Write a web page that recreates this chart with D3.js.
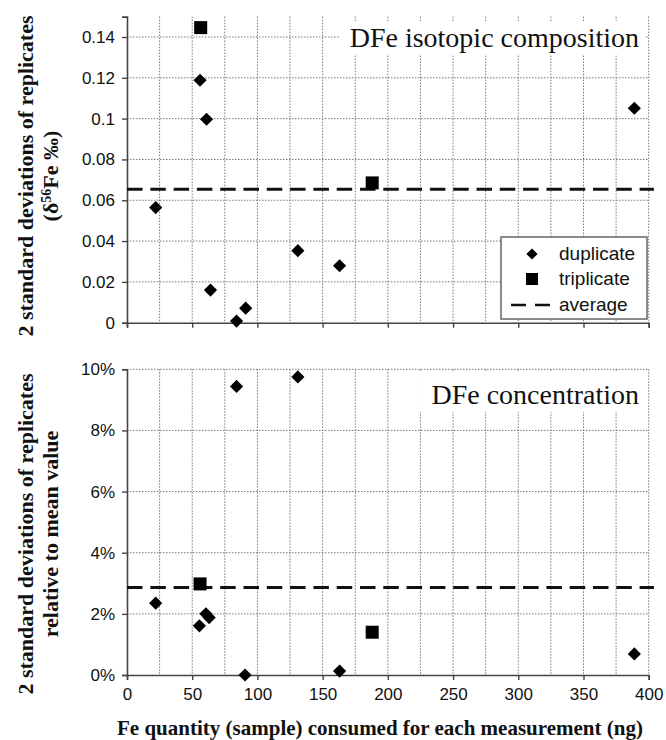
<!DOCTYPE html>
<html><head><meta charset="utf-8">
<script src="https://cdn.jsdelivr.net/npm/d3@7"></script>
<style>html,body{margin:0;padding:0;background:#fff;}svg{display:block;}</style>
</head><body>
<script>
// ---- data ----
const xTicks = [0, 50, 100, 150, 200, 250, 300, 350, 400];
const xGrid = [25, 50, 75, 100, 125, 150, 175, 200, 225, 250, 275, 300, 325, 350, 375, 400];
const isoTicks = [0, 0.02, 0.04, 0.06, 0.08, 0.1, 0.12, 0.14];
const isoTickLabels = ["0", "0.02", "0.04", "0.06", "0.08", "0.1", "0.12", "0.14"];
const isoDupX = [22, 56, 61, 64, 84, 91, 131, 163, 389];
const isoDupY = [0.0564, 0.1188, 0.0997, 0.016, 0.0008, 0.0071, 0.0353, 0.0279, 0.1051];
const isoTriX = [56.5, 188];
const isoTriY = [0.1446, 0.0685];
const isoAvg = 0.0654;
const concTicks = [0, 0.02, 0.04, 0.06, 0.08, 0.10];
const concTickLabels = ["0%", "2%", "4%", "6%", "8%", "10%"];
const concDupX = [22, 55.5, 60.5, 63, 84, 90.5, 131, 163, 389];
const concDupY = [0.0235, 0.0161, 0.0200, 0.0188, 0.0944, 0.0000, 0.0975, 0.0013, 0.0069];
const concTriX = [56, 188];
const concTriY = [0.0298, 0.0140];
const concAvg = 0.0286;
const avgXExtent = [0, 404];
const legendLabels = ["duplicate", "triplicate", "average"];

const W = 666, H = 740;
const svg = d3.select("body").append("svg").attr("width", W).attr("height", H);
const x = d3.scaleLinear().domain([0, 400]).range([127, 648.7]);

const serif = "'Liberation Serif','Times New Roman',serif";
const sans = "'Liberation Sans',Arial,sans-serif";
const diamond = "M0,-6.6L6.6,0L0,6.6L-6.6,0Z";
const gridColor = "#777";
const axisColor = "#444";

function panel(cfg) {
  const y = d3.scaleLinear().domain(cfg.yDomain).range(cfg.yRange);
  const g = svg.append("g");
  // gridlines
  g.selectAll("line.hg").data(cfg.yTicks.filter(d => d > 0)).join("line")
    .attr("x1", x(0)).attr("x2", x(400)).attr("y1", d => y(d)).attr("y2", d => y(d))
    .attr("stroke", gridColor).attr("stroke-width", 1).attr("stroke-dasharray", "1.5,1.5");
  g.selectAll("line.vg").data(xGrid).join("line")
    .attr("x1", d => x(d)).attr("x2", d => x(d)).attr("y1", y(cfg.yDomain[1])).attr("y2", y(0))
    .attr("stroke", gridColor).attr("stroke-width", 1).attr("stroke-dasharray", "1.5,1.5");
  // title box
  g.append("rect").attr("x", cfg.titleBox[0]).attr("y", cfg.titleBox[1])
    .attr("width", cfg.titleBox[2]).attr("height", cfg.titleBox[3]).attr("fill", "#fff");
  g.append("text").attr("x", 639).attr("y", cfg.titleY).attr("text-anchor", "end")
    .attr("font-family", serif).attr("font-size", 28).attr("fill", "#111").text(cfg.title);
  // axes
  const ya = d3.axisLeft(y).tickValues(cfg.yTicks).tickSize(5).tickPadding(7)
    .tickFormat((d, i) => cfg.yTickLabels[i]);
  const yg = g.append("g").attr("transform", `translate(${x(0)},0)`).call(ya);
  yg.select(".domain").attr("stroke", axisColor).attr("stroke-width", 1.6);
  yg.selectAll(".tick line").attr("stroke", axisColor).attr("stroke-width", 1.4);
  yg.selectAll("text").attr("font-family", sans).attr("font-size", 17).attr("fill", "#111");
  const xa = d3.axisBottom(x).tickValues(xTicks).tickSize(5).tickPadding(8)
    .tickFormat(cfg.showX ? d3.format("d") : "");
  const xg = g.append("g").attr("transform", `translate(0,${y(0)})`).call(xa);
  xg.select(".domain").attr("stroke", axisColor).attr("stroke-width", 1.6);
  xg.selectAll(".tick line").attr("stroke", axisColor).attr("stroke-width", 1.4);
  xg.selectAll("text").attr("font-family", sans).attr("font-size", 17).attr("fill", "#111");
  // average line
  g.append("line").attr("x1", x(avgXExtent[0])).attr("x2", x(avgXExtent[1]))
    .attr("y1", y(cfg.avg)).attr("y2", y(cfg.avg))
    .attr("stroke", "#111").attr("stroke-width", 3).attr("stroke-dasharray", "15.5,7.8");
  // points
  g.selectAll("path.dup").data(cfg.dupX.map((d, i) => [d, cfg.dupY[i]])).join("path")
    .attr("d", diamond).attr("transform", d => `translate(${x(d[0])},${y(d[1])})`).attr("fill", "#000");
  g.selectAll("rect.tri").data(cfg.triX.map((d, i) => [d, cfg.triY[i]])).join("rect")
    .attr("x", d => x(d[0]) - 6.5).attr("y", d => y(d[1]) - 6.5)
    .attr("width", 13).attr("height", 13).attr("fill", "#000");
  // y label
  const yl = g.append("text").attr("transform", `translate(0,${cfg.labelCY}) rotate(-90)`)
    .attr("text-anchor", "middle").attr("font-family", serif).attr("font-weight", "bold")
    .attr("font-size", 22).attr("fill", "#111");
  yl.append("tspan").attr("x", 0).attr("y", 32.5).text(cfg.label1);
  cfg.label2(yl);
  return {g, y};
}

const topPanel = panel({
  yDomain: [0, 0.15], yRange: [322.7, 16.6], yTicks: isoTicks, yTickLabels: isoTickLabels,
  showX: false, avg: isoAvg, dupX: isoDupX, dupY: isoDupY, triX: isoTriX, triY: isoTriY,
  title: "DFe isotopic composition", titleY: 47, titleBox: [340, 21, 306, 34],
  labelCY: 176, label1: "2 standard deviations of replicates",
  label2: t => {
    t.append("tspan").attr("x", 0).attr("y", 58).text("(\u03B4");
    t.append("tspan").attr("dy", -7).attr("font-size", 14).text("56");
    t.append("tspan").attr("dy", 7).text("Fe \u2030)");
  }
});

const bottomPanel = panel({
  yDomain: [0, 0.10], yRange: [675, 369.3], yTicks: concTicks, yTickLabels: concTickLabels,
  showX: true, avg: concAvg, dupX: concDupX, dupY: concDupY, triX: concTriX, triY: concTriY,
  title: "DFe concentration", titleY: 404, titleBox: [420, 372, 226, 40],
  labelCY: 534, label1: "2 standard deviations of replicates",
  label2: t => t.append("tspan").attr("x", 0).attr("y", 58).text("relative to mean value")
});

// x label
svg.append("text").attr("x", 380).attr("y", 735).attr("text-anchor", "middle")
  .attr("font-family", serif).attr("font-weight", "bold").attr("font-size", 21).attr("fill", "#111")
  .text("Fe quantity (sample) consumed for each measurement (ng)");

// legend
const lg = svg.append("g");
lg.append("rect").attr("x", 501).attr("y", 237).attr("width", 146).attr("height", 82)
  .attr("fill", "#fff").attr("stroke", "#666").attr("stroke-width", 1.5);
const ly = [259.5, 285, 310.5];
lg.append("path").attr("d", diamond).attr("transform", `translate(532,${ly[0] - 5.5}) scale(0.85)`).attr("fill", "#000");
lg.append("rect").attr("x", 532 - 6).attr("y", ly[1] - 12).attr("width", 12).attr("height", 12).attr("fill", "#000");
lg.append("line").attr("x1", 511).attr("x2", 551).attr("y1", ly[2] - 5.5).attr("y2", ly[2] - 5.5)
  .attr("stroke", "#111").attr("stroke-width", 2.5).attr("stroke-dasharray", "15,9");
lg.selectAll("text").data(legendLabels).join("text")
  .attr("x", 559).attr("y", (d, i) => ly[i]).attr("font-family", sans).attr("font-size", 19)
  .attr("fill", "#111").text(d => d);
</script>
</body></html>
